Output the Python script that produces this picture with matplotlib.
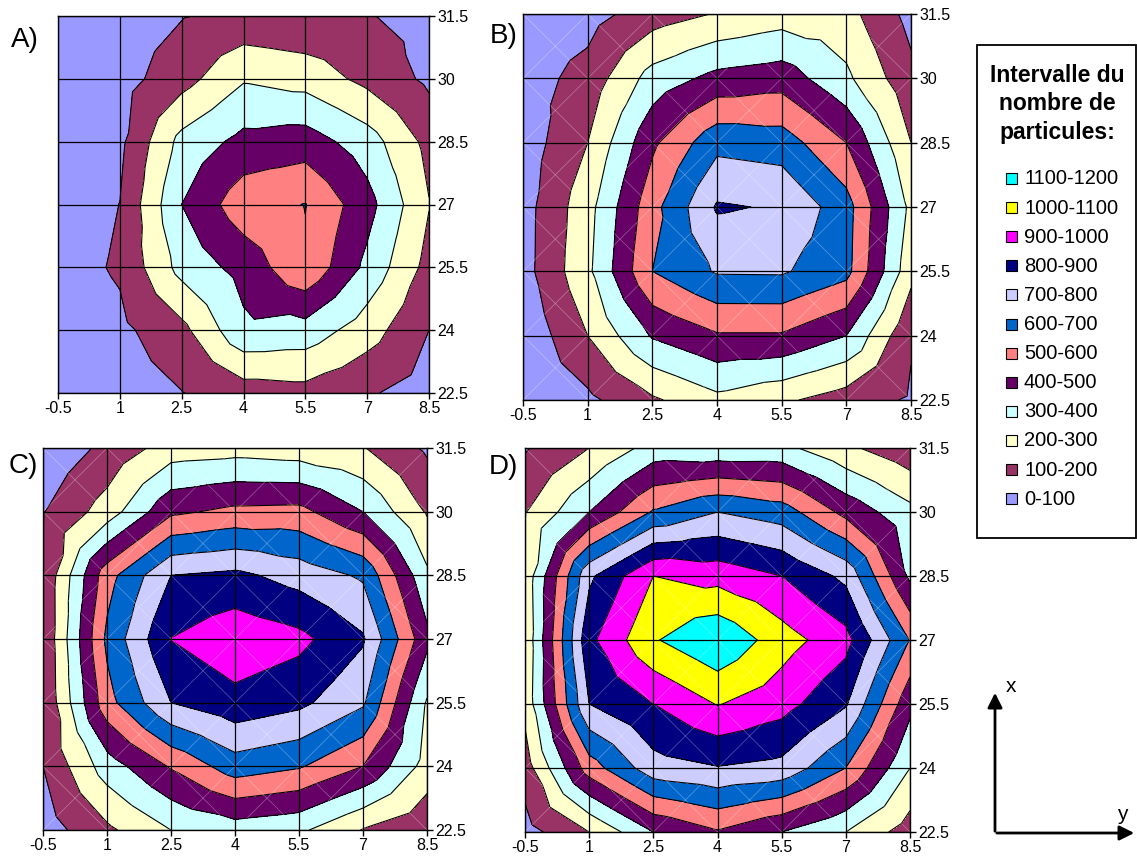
import numpy as np
import matplotlib.pyplot as plt
import matplotlib.tri as mtri
from matplotlib.patches import Rectangle

plt.rcParams['font.family'] = ['Liberation Sans', 'DejaVu Sans']

# grid of the measurements (same for the 4 maps)
x_vals = [-0.5, 1, 2.5, 4, 5.5, 7, 8.5]
y_vals = [22.5, 24, 25.5, 27, 28.5, 30, 31.5]

levels = [0, 100, 200, 300, 400, 500, 600, 700, 800, 900, 1000, 1100, 1200]
band_labels = ['0-100', '100-200', '200-300', '300-400', '400-500', '500-600',
               '600-700', '700-800', '800-900', '900-1000', '1000-1100', '1100-1200']
band_colors = ['#9999FF', '#993366', '#FFFFCC', '#CCFFFF', '#660066', '#FF8080',
               '#0066CC', '#CCCCFF', '#000080', '#FF00FF', '#FFFF00', '#00FFFF']

# nombre de particules, rows = y (22.5 -> 31.5), cols = x (-0.5 -> 8.5)
counts_a = [[20, 50, 97, 150, 165, 110, 60],
            [30, 76, 171, 379, 360, 247, 100],
            [55, 113, 335, 435, 584, 375, 165],
            [40, 101, 400, 561, 603, 437, 204],
            [50, 77, 333, 430, 450, 348, 169],
            [40, 60, 160, 290, 260, 172, 80],
            [30, 50, 95, 125, 110, 105, 70]]

counts_b = [[20, 77, 185, 273, 218, 150, 88],
            [21, 200, 410, 490, 490, 400, 110],
            [61, 278, 600, 710, 712, 632, 232],
            [59, 263, 565, 811, 790, 642, 274],
            [44, 200, 480, 670, 650, 500, 200],
            [53, 137, 341, 430, 456, 320, 127],
            [30, 60, 151, 206, 250, 236, 67]]

counts_c = [[50, 180, 300, 350, 320, 195, 120],
            [100, 350, 510, 653, 610, 500, 260],
            [103, 563, 800, 869, 824, 715, 290],
            [108, 621, 902, 970, 928, 812, 427],
            [110, 560, 800, 824, 760, 685, 320],
            [95, 245, 480, 524, 530, 400, 190],
            [20, 125, 246, 260, 243, 206, 84]]

counts_d = [[60, 200, 400, 490, 400, 300, 150],
            [150, 550, 760, 795, 770, 600, 300],
            [230, 800, 900, 1005, 940, 810, 430],
            [220, 875, 1090, 1190, 1045, 935, 595],
            [230, 780, 1000, 963, 900, 775, 380],
            [195, 400, 610, 700, 650, 470, 330],
            [90, 200, 340, 325, 328, 220, 130]]

W, H = 1137, 859


def build_tri(z):
    # excel style: every cell split in 4 triangles around its centre
    grid = np.array(z, dtype=float)
    ny, nx = grid.shape
    xs, ys, zs = [], [], []
    for j in range(ny):
        for i in range(nx):
            xs.append(x_vals[i]); ys.append(y_vals[j]); zs.append(grid[j, i])
    tris = []
    for j in range(ny - 1):
        for i in range(nx - 1):
            k = len(xs)
            xs.append((x_vals[i] + x_vals[i + 1]) / 2)
            ys.append((y_vals[j] + y_vals[j + 1]) / 2)
            zs.append(grid[j:j + 2, i:i + 2].mean())
            a = j * nx + i
            b = a + 1
            c = a + nx + 1
            d = a + nx
            tris += [[a, b, k], [b, c, k], [c, d, k], [d, a, k]]
    return mtri.Triangulation(xs, ys, tris), np.array(zs)


def px_axes(fig, l, t, r, b):
    return fig.add_axes([l / W, 1 - b / H, (r - l) / W, (b - t) / H])


fig = plt.figure(figsize=(W / 100, H / 100), dpi=100)

panels = [('A)', counts_a, (58, 16, 429, 393), (25, 40), False),
          ('B)', counts_b, (523, 14, 911, 400), (504, 36), True),
          ('C)', counts_c, (43, 448, 427, 830), (23, 466), True),
          ('D)', counts_d, (525, 448, 910, 832), (503, 467), True)]

for name, z, box, lab, diag in panels:
    ax = px_axes(fig, *box)
    tri, zz = build_tri(z)
    ax.tricontourf(tri, zz, levels=levels, colors=band_colors)
    ax.tricontour(tri, zz, levels=levels[1:-1], colors='k', linewidths=0.8)
    if diag:
        for i in range(len(x_vals) - 1):
            for j in range(len(y_vals) - 1):
                ax.plot([x_vals[i], x_vals[i + 1]], [y_vals[j], y_vals[j + 1]],
                        color='white', lw=0.5, alpha=0.35, zorder=3)
                ax.plot([x_vals[i], x_vals[i + 1]], [y_vals[j + 1], y_vals[j]],
                        color='white', lw=0.5, alpha=0.35, zorder=3)
    ax.vlines(x_vals, y_vals[0], y_vals[-1], color='k', lw=0.9, zorder=4)
    ax.hlines(y_vals, x_vals[0], x_vals[-1], color='k', lw=0.9, zorder=4)
    ax.set_xlim(x_vals[0], x_vals[-1])
    ax.set_ylim(y_vals[0], y_vals[-1])
    ax.set_xticks(x_vals)
    ax.set_xticklabels(['%g' % v for v in x_vals])
    ax.set_yticks(y_vals)
    ax.set_yticklabels(['%g' % v for v in y_vals])
    ax.yaxis.tick_right()
    ax.tick_params(direction='out', length=4, width=1, labelsize=11.5, pad=2)
    for sp in ax.spines.values():
        sp.set_linewidth(1)
    fig.text(lab[0] / W, 1 - lab[1] / H, name, fontsize=20, ha='center', va='center')

# overlay in pixel coordinates for legend box and the x / y arrows
ov = fig.add_axes([0, 0, 1, 1], zorder=10)
ov.set_xlim(0, W)
ov.set_ylim(H, 0)
ov.axis('off')
ov.patch.set_alpha(0)

ov.add_patch(Rectangle((977, 45), 159, 493, fill=False, ec='k', lw=1.3))
for k, line in enumerate(['Intervalle du', 'nombre de', 'particules:']):
    ov.text(1057, 75 + 29 * k, line, fontsize=16.5, fontweight='bold', ha='center', va='center')

for k in range(len(band_labels)):
    idx = len(band_labels) - 1 - k
    yc = 179 + 29.1 * k
    ov.add_patch(Rectangle((1006, yc - 6), 11, 11, fc=band_colors[idx], ec='k', lw=0.8))
    ov.text(1024, yc, band_labels[idx], fontsize=14.5, va='center', ha='left')

ov.annotate('', xy=(995, 690), xytext=(995, 834),
            arrowprops=dict(arrowstyle='-|>', lw=2, color='k', mutation_scale=22))
ov.annotate('', xy=(1137, 833), xytext=(994, 833),
            arrowprops=dict(arrowstyle='-|>', lw=2, color='k', mutation_scale=22))
ov.text(1011, 686, 'x', fontsize=15, ha='center', va='center')
ov.text(1122, 814, 'y', fontsize=15, ha='center', va='center')

fig.savefig('out.png', dpi=100)
